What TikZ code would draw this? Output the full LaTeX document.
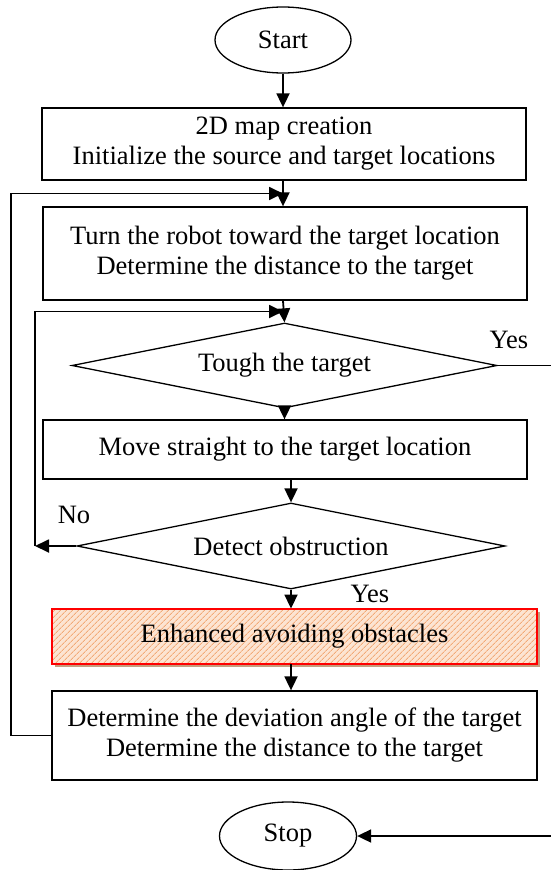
\documentclass[tikz,border=0pt]{standalone}
\usepackage{fontspec}
\setmainfont{Liberation Serif}
\usepackage{tikz}
\usetikzlibrary{arrows.meta,calc,shapes.geometric,shadows,patterns.meta,positioning}
\definecolor{peach}{RGB}{252,228,210}
\definecolor{hatchorange}{RGB}{242,170,120}
\definecolor{shadowtan}{RGB}{196,158,126}

\begin{document}
\begin{tikzpicture}[x=1pt,y=-1pt,
  font=\fontsize{26.5}{30}\selectfont,
  term/.style={ellipse,draw,line width=1.3pt,minimum width=136pt,minimum height=66pt,inner sep=0pt},
  proc/.style={rectangle,draw,line width=1.3pt,inner sep=0pt,align=center},
  decide/.style={diamond,draw,line width=1.3pt,inner sep=0pt,aspect=5},
  hatchbox/.style={rectangle,draw=red,line width=1.8pt,inner sep=0pt,
    drop shadow={shadow xshift=3pt,shadow yshift=-3pt,fill=shadowtan,opacity=1},
    preaction={fill=peach},pattern={Lines[angle=45,distance=4pt,line width=0.9pt]},pattern color=hatchorange},
  arr/.style={line width=1.8pt,-{Triangle[length=14pt,width=13pt]}}]
\useasboundingbox (0,0) rectangle (551,870);
\node[term] (start) at (283,40) {Start};
\node[proc,minimum width=484pt,minimum height=72pt] (map) at (284,144) {2D map creation\\Initialize the source and target locations};
\node[proc,minimum width=484pt,minimum height=93pt] (turn) at (285,253.5) {Turn the robot toward the target location\\Determine the distance to the target};
\node[decide,minimum width=425pt,minimum height=85pt] (tough) at (284.5,365.5) {Tough the target};
\node[proc,minimum width=484pt,minimum height=59pt] (move) at (285,449.5) {Move straight to the target location};
\node[decide,minimum width=428pt,minimum height=86pt] (detect) at (291,546) {Detect obstruction};
\node[hatchbox,minimum width=485pt,minimum height=55pt] (avoid) at (294.5,636.5) {Enhanced avoiding obstacles};
\node[proc,minimum width=485pt,minimum height=89pt] (dev) at (294.5,735.5) {Determine the deviation angle of the target\\Determine the distance to the target};
\node[term,minimum width=137pt,minimum height=68pt] (stop) at (288,836) {Stop};
\coordinate (jA) at ($(map.south)!0.5!(turn.north)$);
\coordinate (jB) at ($(turn.south)!0.5!(tough.north)$);
\coordinate (noC) at (35,546);
\draw[arr] (start) -- (start |- map.north);
\draw[arr] (map.south -| start) -- (start |- turn.north);
\draw[arr] (start |- turn.south) -- (tough.north);
\draw[arr] (tough.south) -- (tough.south |- move.north);
\draw[arr] (detect.north |- move.south) -- (detect.north);
\draw[arr] (detect.south) -- (detect.south |- avoid.north);
\draw[arr] (detect.south |- avoid.south) -- (detect.south |- dev.north);
\draw[arr] (dev.west) -- ++(-40,0) |- (jA -| start);
\draw[arr] (detect.west) -- (noC);
\draw[arr] (noC) |- (jB -| start);
\draw[arr] (tough.east) -- ++(75,0) |- (stop.east);
\node at (509,340) {Yes};
\node at (74,515) {No};
\node at (370,594) {Yes};
\end{tikzpicture}
\end{document}
